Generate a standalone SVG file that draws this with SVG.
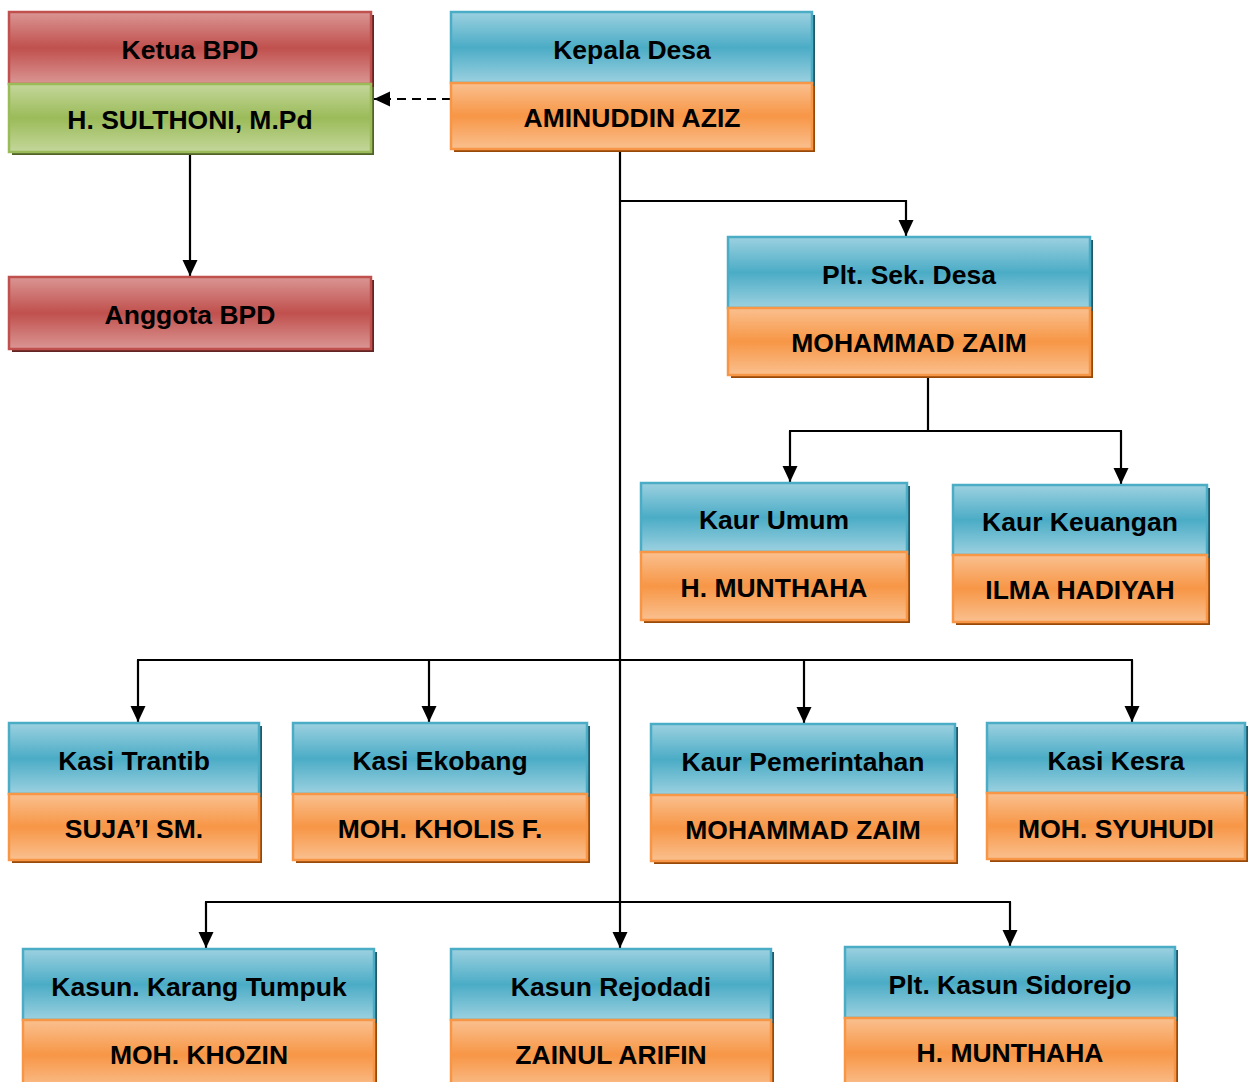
<svg xmlns="http://www.w3.org/2000/svg" width="1250" height="1082" viewBox="0 0 1250 1082">
<style>
.t{font-family:"Liberation Sans",Arial,sans-serif;font-weight:bold;font-size:26.5px;fill:#000;text-anchor:middle}
.b{fill:url(#gBlue);stroke:#4BACC6;stroke-width:2.5}
.o{fill:url(#gOrange);stroke:#F79646;stroke-width:2.5}
.r{fill:url(#gRed);stroke:#C0504D;stroke-width:2.5}
.g{fill:url(#gGreen);stroke:#9BBB59;stroke-width:2.5}
.sb{fill:#215968}
.so{fill:#984807}
.sr{fill:#632523}
.sg{fill:#4F6228}
.ln{fill:none;stroke:#000;stroke-width:2.2}
.ar{fill:none;stroke:#000;stroke-width:2.2;marker-end:url(#arr)}
.da{fill:none;stroke:#000;stroke-width:2.2;stroke-dasharray:9,6;marker-end:url(#arr)}
</style>
<defs>
<linearGradient id="gBlue" x1="0" y1="0" x2="0" y2="1">
<stop offset="0" stop-color="#9CD1E0"/><stop offset="0.5" stop-color="#4BACC6"/><stop offset="1" stop-color="#9CD1E0"/>
</linearGradient>
<linearGradient id="gOrange" x1="0" y1="0" x2="0" y2="1">
<stop offset="0" stop-color="#FAC08F"/><stop offset="0.5" stop-color="#F79646"/><stop offset="1" stop-color="#FAC08F"/>
</linearGradient>
<linearGradient id="gRed" x1="0" y1="0" x2="0" y2="1">
<stop offset="0" stop-color="#DA9694"/><stop offset="0.5" stop-color="#C0504D"/><stop offset="1" stop-color="#DA9694"/>
</linearGradient>
<linearGradient id="gGreen" x1="0" y1="0" x2="0" y2="1">
<stop offset="0" stop-color="#C4D79B"/><stop offset="0.5" stop-color="#9BBB59"/><stop offset="1" stop-color="#C4D79B"/>
</linearGradient>
<marker id="arr" markerUnits="userSpaceOnUse" markerWidth="16" markerHeight="16" refX="16" refY="8" orient="auto" viewBox="0 0 16 16">
<path d="M0,0.5 L16,8 L0,15.5 z" fill="#000"/>
</marker>
</defs>
<rect width="1250" height="1082" fill="#fff"/>

<g id="connectors">
<path class="da" d="M451,99 H374"/>
<path class="ar" d="M190,152 V276"/>
<path class="ar" d="M620,149 V948"/>
<path class="ar" d="M620,201 H906 V236"/>
<path class="ln" d="M928,375 V431"/>
<path class="ln" d="M789,431 H1122"/>
<path class="ar" d="M790,431 V482"/>
<path class="ar" d="M1121,431 V484"/>
<path class="ln" d="M137,660 H1133"/>
<path class="ar" d="M138,660 V722"/>
<path class="ar" d="M429,660 V722"/>
<path class="ar" d="M804,660 V723"/>
<path class="ar" d="M1132,660 V722"/>
<path class="ln" d="M205,902 H1011"/>
<path class="ar" d="M206,902 V948"/>
<path class="ar" d="M1010,902 V946"/>
</g>

<g id="ketua-bpd">
<rect class="sr" x="12" y="15" width="362" height="72"/>
<rect class="sg" x="12" y="87" width="362" height="68"/>
<rect class="r" x="9" y="12" width="362" height="72"/>
<rect class="g" x="9" y="84" width="362" height="68"/>
<text class="t" x="190" y="59">Ketua BPD</text>
<text class="t" x="190" y="129">H. SULTHONI, M.Pd</text>
</g>

<g id="kepala-desa">
<rect class="sb" x="454" y="15" width="361" height="71"/>
<rect class="so" x="454" y="86" width="361" height="66"/>
<rect class="b" x="451" y="12" width="361" height="71"/>
<rect class="o" x="451" y="83" width="361" height="66"/>
<text class="t" x="632" y="59">Kepala Desa</text>
<text class="t" x="632" y="127">AMINUDDIN AZIZ</text>
</g>

<g id="anggota-bpd">
<rect class="sr" x="12" y="280" width="362" height="72"/>
<rect class="r" x="9" y="277" width="362" height="72"/>
<text class="t" x="190" y="324">Anggota BPD</text>
</g>

<g id="sek-desa">
<rect class="sb" x="731" y="240" width="362" height="71"/>
<rect class="so" x="731" y="311" width="362" height="67"/>
<rect class="b" x="728" y="237" width="362" height="71"/>
<rect class="o" x="728" y="308" width="362" height="67"/>
<text class="t" x="909" y="284">Plt. Sek. Desa</text>
<text class="t" x="909" y="352">MOHAMMAD ZAIM</text>
</g>

<g id="kaur-umum">
<rect class="sb" x="644" y="486" width="266" height="69"/>
<rect class="so" x="644" y="555" width="266" height="68"/>
<rect class="b" x="641" y="483" width="266" height="69"/>
<rect class="o" x="641" y="552" width="266" height="68"/>
<text class="t" x="774" y="529">Kaur Umum</text>
<text class="t" x="774" y="597">H. MUNTHAHA</text>
</g>

<g id="kaur-keuangan">
<rect class="sb" x="956" y="488" width="254" height="70"/>
<rect class="so" x="956" y="558" width="254" height="67"/>
<rect class="b" x="953" y="485" width="254" height="70"/>
<rect class="o" x="953" y="555" width="254" height="67"/>
<text class="t" x="1080" y="531">Kaur Keuangan</text>
<text class="t" x="1080" y="599">ILMA HADIYAH</text>
</g>

<g id="kasi-trantib">
<rect class="sb" x="12" y="726" width="250" height="71"/>
<rect class="so" x="12" y="797" width="250" height="66"/>
<rect class="b" x="9" y="723" width="250" height="71"/>
<rect class="o" x="9" y="794" width="250" height="66"/>
<text class="t" x="134" y="770">Kasi Trantib</text>
<text class="t" x="134" y="838">SUJA’I SM.</text>
</g>

<g id="kasi-ekobang">
<rect class="sb" x="296" y="726" width="294" height="71"/>
<rect class="so" x="296" y="797" width="294" height="66"/>
<rect class="b" x="293" y="723" width="294" height="71"/>
<rect class="o" x="293" y="794" width="294" height="66"/>
<text class="t" x="440" y="770">Kasi Ekobang</text>
<text class="t" x="440" y="838">MOH. KHOLIS F.</text>
</g>

<g id="kaur-pemerintahan">
<rect class="sb" x="654" y="727" width="304" height="71"/>
<rect class="so" x="654" y="798" width="304" height="66"/>
<rect class="b" x="651" y="724" width="304" height="71"/>
<rect class="o" x="651" y="795" width="304" height="66"/>
<text class="t" x="803" y="771">Kaur Pemerintahan</text>
<text class="t" x="803" y="839">MOHAMMAD ZAIM</text>
</g>

<g id="kasi-kesra">
<rect class="sb" x="990" y="726" width="258" height="70"/>
<rect class="so" x="990" y="796" width="258" height="66"/>
<rect class="b" x="987" y="723" width="258" height="70"/>
<rect class="o" x="987" y="793" width="258" height="66"/>
<text class="t" x="1116" y="770">Kasi Kesra</text>
<text class="t" x="1116" y="838">MOH. SYUHUDI</text>
</g>

<g id="kasun-karang-tumpuk">
<rect class="sb" x="26" y="952" width="351" height="71"/>
<rect class="so" x="26" y="1023" width="351" height="70"/>
<rect class="b" x="23" y="949" width="351" height="71"/>
<rect class="o" x="23" y="1020" width="351" height="70"/>
<text class="t" x="199" y="996">Kasun. Karang Tumpuk</text>
<text class="t" x="199" y="1064">MOH. KHOZIN</text>
</g>

<g id="kasun-rejodadi">
<rect class="sb" x="454" y="952" width="320" height="71"/>
<rect class="so" x="454" y="1023" width="320" height="70"/>
<rect class="b" x="451" y="949" width="320" height="71"/>
<rect class="o" x="451" y="1020" width="320" height="70"/>
<text class="t" x="611" y="996">Kasun Rejodadi</text>
<text class="t" x="611" y="1064">ZAINUL ARIFIN</text>
</g>

<g id="kasun-sidorejo">
<rect class="sb" x="848" y="950" width="330" height="71"/>
<rect class="so" x="848" y="1021" width="330" height="70"/>
<rect class="b" x="845" y="947" width="330" height="71"/>
<rect class="o" x="845" y="1018" width="330" height="70"/>
<text class="t" x="1010" y="994">Plt. Kasun Sidorejo</text>
<text class="t" x="1010" y="1062">H. MUNTHAHA</text>
</g>
</svg>
